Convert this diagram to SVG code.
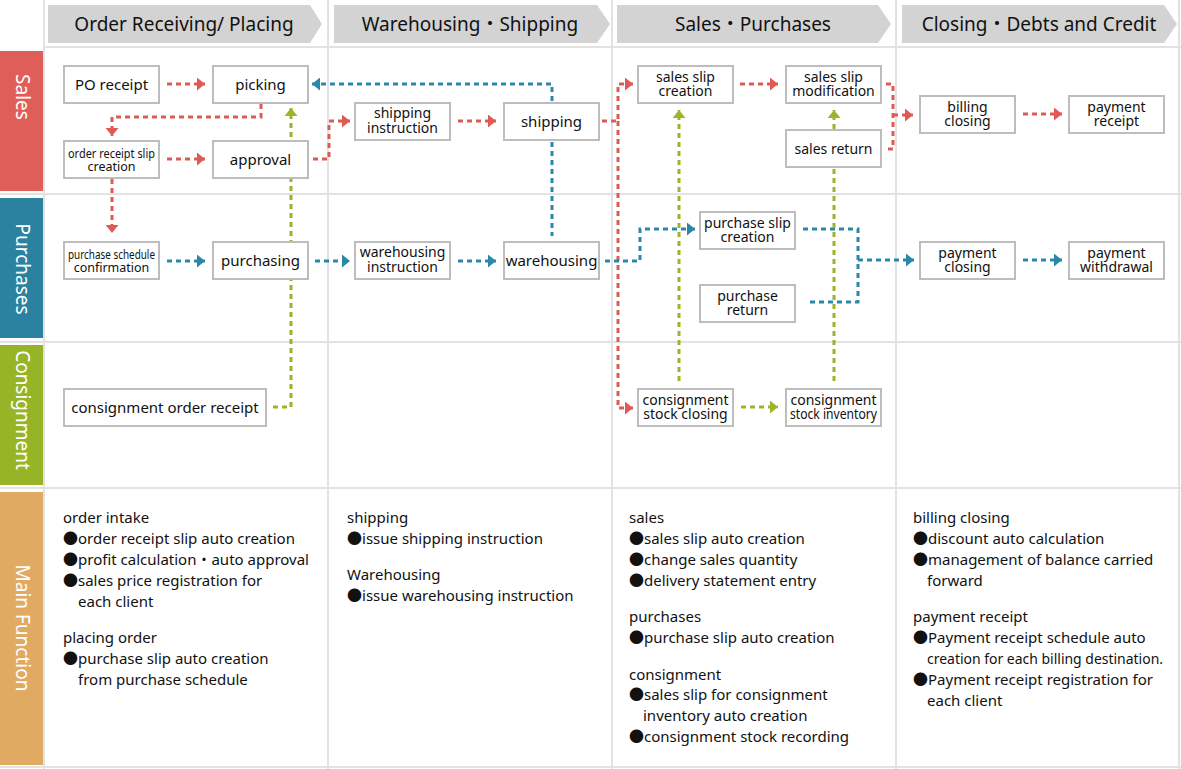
<svg xmlns="http://www.w3.org/2000/svg" width="1181" height="769" viewBox="0 0 1181 769">
<defs>
<style>
text{font-family:"Noto Sans","Noto Sans CJK JP",sans-serif;fill:#111;}
.grid{stroke:#e2e2e2;stroke-width:2;fill:none;}
.hdr{fill:#d3d3d3;}
.hdrt{font-size:19px;text-anchor:middle;}
.band{font-size:19px;fill:#fff;text-anchor:middle;}
.node rect{fill:#fff;stroke:#bdbdbd;stroke-width:2;}
.node text{text-anchor:middle;font-size:14px;}
.n15{font-size:15px !important;}
.sm{font-size:12.5px !important;}
.c{fill:none;stroke-width:3;stroke-dasharray:5 4;}
.red{stroke:#e05a55;}
.teal{stroke:#2a87a8;}
.green{stroke:#99b52a;}
.mf{font-size:15px;}
.jp{font-family:"Noto Sans CJK JP",sans-serif;}
</style>
<marker id="ar" markerUnits="userSpaceOnUse" markerWidth="8" markerHeight="13" refX="8" refY="6.5" orient="auto"><path d="M0,0 L8,6.5 L0,13 z" fill="#e05a55"/></marker>
<marker id="at" markerUnits="userSpaceOnUse" markerWidth="8" markerHeight="13" refX="8" refY="6.5" orient="auto"><path d="M0,0 L8,6.5 L0,13 z" fill="#2a87a8"/></marker>
<marker id="ag" markerUnits="userSpaceOnUse" markerWidth="8" markerHeight="13" refX="8" refY="6.5" orient="auto"><path d="M0,0 L8,6.5 L0,13 z" fill="#99b52a"/></marker>
</defs>
<rect width="1181" height="769" fill="#fff"/>
<g id="grid">
<path class="grid" d="M44,0V769M328,0V769M612,0V769M896,0V769M1179,0V769M44,47H1181M0,194H1181M0,342H1181M0,488H1181M0,767H1181"/>
</g>
<g id="headers">
<polygon class="hdr" points="48,5 310,5 322,24 310,43 48,43"/>
<text class="hdrt" x="184" y="30.5">Order Receiving/ Placing</text>
<polygon class="hdr" points="334,5 597,5 610,24 597,43 334,43"/>
<text class="hdrt" x="470" y="30.5">Warehousing<tspan class="jp">・</tspan>Shipping</text>
<polygon class="hdr" points="617,5 878,5 891,24 878,43 617,43"/>
<text class="hdrt" x="753" y="30.5">Sales<tspan class="jp">・</tspan>Purchases</text>
<polygon class="hdr" points="902,5 1164,5 1177,24 1164,43 902,43"/>
<text class="hdrt" x="1039" y="30.5">Closing<tspan class="jp">・</tspan>Debts and Credit</text>
</g>
<g id="bands">
<rect x="0" y="51" width="43" height="140" fill="#e05e59"/>
<text class="band" transform="translate(22,97) rotate(90)" dy="6">Sales</text>
<rect x="0" y="198" width="43" height="140" fill="#2a82a0"/>
<text class="band" transform="translate(22,269) rotate(90)" dy="6">Purchases</text>
<rect x="0" y="345" width="43" height="140" fill="#97b426"/>
<text class="band" transform="translate(22,410) rotate(90)" dy="6">Consignment</text>
<rect x="0" y="492" width="43" height="273" fill="#e1aa62"/>
<text class="band" transform="translate(22,628) rotate(90)" dy="6">Main Function</text>
</g>
<g id="connectors">
<path class="c red" d="M167,84H205" marker-end="url(#ar)"/>
<path class="c red" d="M261,104V117H112V136" marker-end="url(#ar)"/>
<path class="c red" d="M167,159H205" marker-end="url(#ar)"/>
<path class="c red" d="M112,179V233" marker-end="url(#ar)"/>
<path class="c red" d="M313,159H329V121H350" marker-end="url(#ar)"/>
<path class="c red" d="M458,121H496" marker-end="url(#ar)"/>
<path class="c red" d="M602,121H618V84H633" marker-end="url(#ar)"/>
<path class="c red" d="M618,121V408H633" marker-end="url(#ar)"/>
<path class="c red" d="M740,84H778" marker-end="url(#ar)"/>
<path class="c red" d="M886,84H893V149H886"/>
<path class="c red" d="M893,115H913" marker-end="url(#ar)"/>
<path class="c red" d="M1023,114H1062" marker-end="url(#ar)"/>
<path class="c teal" d="M552,101V84H312" marker-end="url(#at)"/>
<path class="c teal" d="M552,142V236"/>
<path class="c teal" d="M167,261H205" marker-end="url(#at)"/>
<path class="c teal" d="M315,261H350" marker-end="url(#at)"/>
<path class="c teal" d="M458,261H496" marker-end="url(#at)"/>
<path class="c teal" d="M605,261H640V229H695" marker-end="url(#at)"/>
<path class="c teal" d="M803,229H858V302H806"/>
<path class="c teal" d="M858,260H914" marker-end="url(#at)"/>
<path class="c teal" d="M1023,260H1062" marker-end="url(#at)"/>
<path class="c green" d="M273,407H291V108" marker-end="url(#ag)"/>
<path class="c green" d="M679,381V110" marker-end="url(#ag)"/>
<path class="c green" d="M834,381V110" marker-end="url(#ag)"/>
<path class="c green" d="M741,407H778" marker-end="url(#ag)"/>
</g>
<g id="n-po-receipt" class="node"><rect x="64" y="66" width="95" height="37"/><text class="n15" x="111.5" y="90">PO receipt</text></g>
<g id="n-picking" class="node"><rect x="213" y="66" width="95" height="37"/><text class="n15" x="260.5" y="90">picking</text></g>
<g id="n-order-receipt-slip" class="node"><rect x="64" y="141" width="95" height="37"/><text class="sm" x="111.5" y="158" textLength="87" lengthAdjust="spacingAndGlyphs">order receipt slip</text><text class="sm" x="111.5" y="171">creation</text></g>
<g id="n-approval" class="node"><rect x="213" y="141" width="95" height="37"/><text class="n15" x="260.5" y="165">approval</text></g>
<g id="n-purchase-schedule" class="node"><rect x="64" y="242" width="95" height="37"/><text class="sm" x="111.5" y="259" textLength="87" lengthAdjust="spacingAndGlyphs" style="font-size:12px">purchase schedule</text><text class="sm" x="111.5" y="272" style="font-size:12px">confirmation</text></g>
<g id="n-purchasing" class="node"><rect x="213" y="242" width="95" height="37"/><text class="n15" x="260.5" y="266">purchasing</text></g>
<g id="n-consignment-order" class="node"><rect x="64" y="389" width="202" height="37"/><text class="n15" x="165" y="413">consignment order receipt</text></g>
<g id="n-shipping-instruction" class="node"><rect x="355" y="103" width="95" height="37"/><text x="402.5" y="118">shipping</text><text x="402.5" y="133">instruction</text></g>
<g id="n-shipping" class="node"><rect x="504" y="103" width="95" height="37"/><text class="n15" x="551.5" y="127">shipping</text></g>
<g id="n-warehousing-instruction" class="node"><rect x="355" y="242" width="95" height="37"/><text x="402.5" y="257">warehousing</text><text x="402.5" y="272">instruction</text></g>
<g id="n-warehousing" class="node"><rect x="504" y="242" width="95" height="37"/><text class="n15" x="551.5" y="266">warehousing</text></g>
<g id="n-sales-slip-creation" class="node"><rect x="638" y="66" width="95" height="37"/><text x="685.5" y="82">sales slip</text><text x="685.5" y="96">creation</text></g>
<g id="n-sales-slip-modification" class="node"><rect x="786" y="66" width="95" height="37"/><text x="833.5" y="82">sales slip</text><text x="833.5" y="96">modification</text></g>
<g id="n-sales-return" class="node"><rect x="786" y="130" width="95" height="37"/><text x="833.5" y="154">sales return</text></g>
<g id="n-purchase-slip-creation" class="node"><rect x="700" y="212" width="95" height="37"/><text x="747.5" y="228">purchase slip</text><text x="747.5" y="242">creation</text></g>
<g id="n-purchase-return" class="node"><rect x="700" y="285" width="95" height="37"/><text x="747.5" y="301">purchase</text><text x="747.5" y="315">return</text></g>
<g id="n-consignment-stock-closing" class="node"><rect x="638" y="389" width="95" height="37"/><text x="685.5" y="405">consignment</text><text x="685.5" y="419">stock closing</text></g>
<g id="n-consignment-stock-inventory" class="node"><rect x="786" y="389" width="95" height="37"/><text x="833.5" y="405">consignment</text><text x="833.5" y="419" textLength="87" lengthAdjust="spacingAndGlyphs">stock inventory</text></g>
<g id="n-billing-closing" class="node"><rect x="920" y="96" width="95" height="37"/><text x="967.5" y="112">billing</text><text x="967.5" y="126">closing</text></g>
<g id="n-payment-receipt" class="node"><rect x="1069" y="96" width="95" height="37"/><text x="1116.5" y="112">payment</text><text x="1116.5" y="126">receipt</text></g>
<g id="n-payment-closing" class="node"><rect x="920" y="242" width="95" height="37"/><text x="967.5" y="258">payment</text><text x="967.5" y="272">closing</text></g>
<g id="n-payment-withdrawal" class="node"><rect x="1069" y="242" width="95" height="37"/><text x="1116.5" y="258">payment</text><text x="1116.5" y="272">withdrawal</text></g>
<g id="main-function" class="mf">
<text class="mf" x="63" y="523">order intake</text>
<text class="mf" x="63" y="544"><tspan class="jp">●</tspan>order receipt slip auto creation</text>
<text class="mf" x="63" y="565"><tspan class="jp">●</tspan>profit calculation<tspan class="jp">・</tspan>auto approval</text>
<text class="mf" x="63" y="586"><tspan class="jp">●</tspan>sales price registration for</text>
<text class="mf" x="78" y="607">each client</text>
<text class="mf" x="63" y="643">placing order</text>
<text class="mf" x="63" y="664"><tspan class="jp">●</tspan>purchase slip auto creation</text>
<text class="mf" x="78" y="685">from purchase schedule</text>
<text class="mf" x="347" y="523">shipping</text>
<text class="mf" x="347" y="544"><tspan class="jp">●</tspan>issue shipping instruction</text>
<text class="mf" x="347" y="580">Warehousing</text>
<text class="mf" x="347" y="601"><tspan class="jp">●</tspan>issue warehousing instruction</text>
<text class="mf" x="629" y="523">sales</text>
<text class="mf" x="629" y="544"><tspan class="jp">●</tspan>sales slip auto creation</text>
<text class="mf" x="629" y="565"><tspan class="jp">●</tspan>change sales quantity</text>
<text class="mf" x="629" y="586"><tspan class="jp">●</tspan>delivery statement entry</text>
<text class="mf" x="629" y="622">purchases</text>
<text class="mf" x="629" y="643"><tspan class="jp">●</tspan>purchase slip auto creation</text>
<text class="mf" x="629" y="680">consignment</text>
<text class="mf" x="629" y="700"><tspan class="jp">●</tspan>sales slip for consignment</text>
<text class="mf" x="643" y="721">inventory auto creation</text>
<text class="mf" x="629" y="742"><tspan class="jp">●</tspan>consignment stock recording</text>
<text class="mf" x="913" y="523">billing closing</text>
<text class="mf" x="913" y="544"><tspan class="jp">●</tspan>discount auto calculation</text>
<text class="mf" x="913" y="565"><tspan class="jp">●</tspan>management of balance carried</text>
<text class="mf" x="927" y="586">forward</text>
<text class="mf" x="913" y="622">payment receipt</text>
<text class="mf" x="913" y="643"><tspan class="jp">●</tspan>Payment receipt schedule auto</text>
<text class="mf" x="927" y="664" textLength="236" lengthAdjust="spacingAndGlyphs">creation for each billing destination.</text>
<text class="mf" x="913" y="685"><tspan class="jp">●</tspan>Payment receipt registration for</text>
<text class="mf" x="927" y="706">each client</text>
</g>
</svg>
